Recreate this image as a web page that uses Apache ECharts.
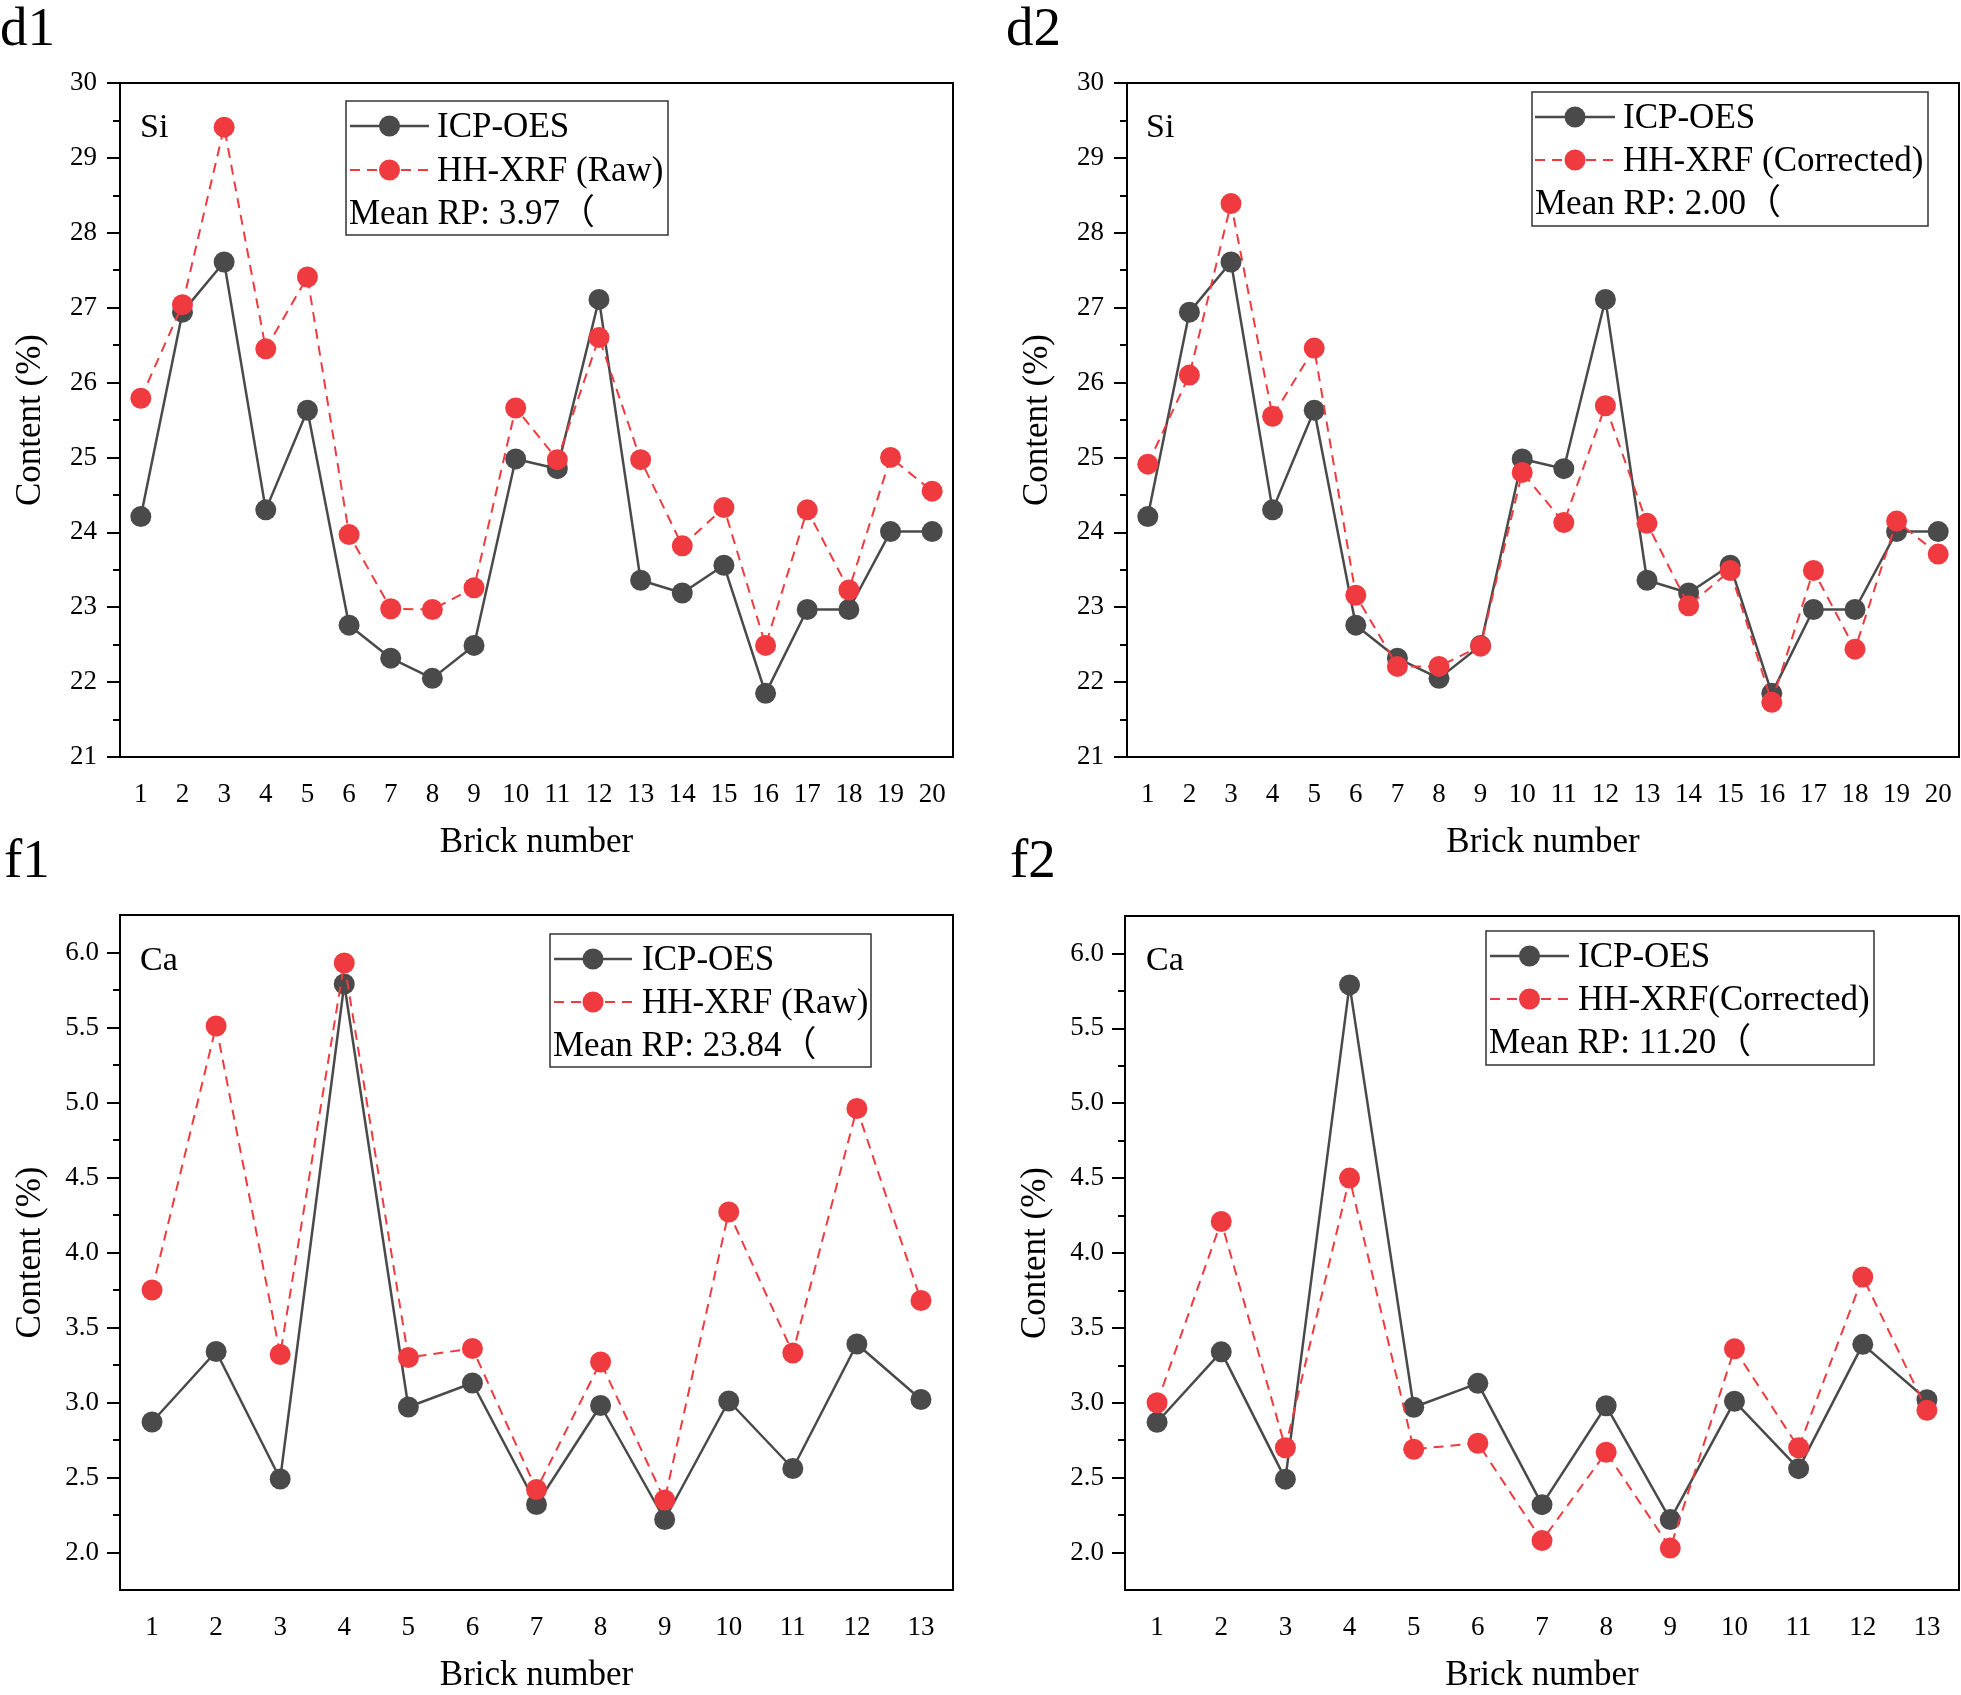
<!DOCTYPE html>
<html>
<head>
<meta charset="utf-8">
<script src="https://cdn.jsdelivr.net/npm/echarts@6/dist/echarts.min.js"></script>
<style>
html,body{margin:0;padding:0;background:#fff;}
#chart{width:1961px;height:1695px;}
</style>
</head>
<body>
<div id="chart"></div>
<script>
// ---------- data ----------
const bricks20 = ['1','2','3','4','5','6','7','8','9','10','11','12','13','14','15','16','17','18','19','20'];
const bricks13 = ['1','2','3','4','5','6','7','8','9','10','11','12','13'];

const siICP  = [24.21,26.94,27.61,24.30,25.63,22.76,22.32,22.05,22.49,24.98,24.85,27.11,23.36,23.19,23.56,21.85,22.97,22.97,24.01,24.01];
const siRaw  = [25.79,27.04,29.41,26.45,27.41,23.97,22.98,22.97,23.26,25.66,24.97,26.60,24.97,23.82,24.33,22.49,24.30,23.23,25.00,24.55];
const siCorr = [24.91,26.10,28.39,25.55,26.46,23.16,22.21,22.21,22.48,24.80,24.13,25.69,24.12,23.02,23.49,21.73,23.49,22.44,24.15,23.71];

const caICP  = [2.87,3.34,2.49,5.79,2.97,3.13,2.32,2.98,2.22,3.01,2.56,3.39,3.02];
const caRaw  = [3.75,5.51,3.32,5.93,3.30,3.36,2.42,3.27,2.35,4.27,3.33,4.96,3.68];
const caCorr = [3.00,4.21,2.70,4.50,2.69,2.73,2.08,2.67,2.03,3.36,2.70,3.84,2.95];

const caMajorTicks = [2.0,2.5,3.0,3.5,4.0,4.5,5.0,5.5,6.0];
const caMinorTicks = [2.25,2.75,3.25,3.75,4.25,4.75,5.25,5.75];

const panelLabels = ['d1','d2','f1','f2'];
const elementLabels = ['Si','Si','Ca','Ca'];
const legendNames = [
  ['ICP-OES','HH-XRF (Raw)','Mean RP: 3.97（'],
  ['ICP-OES','HH-XRF (Corrected)','Mean RP: 2.00（'],
  ['ICP-OES','HH-XRF (Raw)','Mean RP: 23.84（'],
  ['ICP-OES','HH-XRF(Corrected)','Mean RP: 11.20（']
];

// ---------- styles ----------
const FONT = "'Liberation Serif', 'Noto Sans CJK SC', serif";
const GRAY = '#4a4a4a';
const RED = '#ef3b3f';

const grids = [
  {left:120, top:83, width:833, height:674},
  {left:1127, top:83, width:832, height:674},
  {left:120, top:915, width:833, height:675},
  {left:1125, top:916, width:834, height:674}
];

function xAx(gi, cats){
  return {
    type:'category', gridIndex:gi, data:cats, boundaryGap:true,
    name:'Brick number', nameLocation:'middle', nameGap:68,
    nameTextStyle:{fontFamily:FONT, fontSize:35, color:'#000'},
    axisLine:{lineStyle:{color:'#000', width:2}},
    axisTick:{alignWithLabel:true, length:13, lineStyle:{color:'#000', width:2}},
    axisLabel:{interval:0, margin:24, fontFamily:FONT, fontSize:27, color:'#000'},
    splitLine:{show:false}
  };
}
function ySi(gi){
  return {
    type:'value', gridIndex:gi, min:21, max:30, interval:1,
    name:'Content (%)', nameLocation:'middle', nameGap:72,
    nameTextStyle:{fontFamily:FONT, fontSize:35, color:'#000'},
    axisLine:{show:true, lineStyle:{color:'#000', width:2}},
    axisTick:{show:true, length:13, lineStyle:{color:'#000', width:2}},
    minorTick:{show:true, splitNumber:2, length:7, lineStyle:{color:'#000', width:2}},
    axisLabel:{margin:23, fontFamily:FONT, fontSize:27, color:'#000'},
    splitLine:{show:false}
  };
}
function yCa(gi){
  return [{
    type:'value', gridIndex:gi, min:1.75, max:6.25,
    name:'Content (%)', nameLocation:'middle', nameGap:72,
    nameTextStyle:{fontFamily:FONT, fontSize:35, color:'#000'},
    axisLine:{show:true, lineStyle:{color:'#000', width:2}},
    axisTick:{show:true, length:13, customValues:caMajorTicks, lineStyle:{color:'#000', width:2}},
    axisLabel:{margin:21, customValues:caMajorTicks, fontFamily:FONT, fontSize:27, color:'#000',
      formatter:v=>Number(v).toFixed(1)},
    splitLine:{show:false}
  },{
    type:'value', gridIndex:gi, min:1.75, max:6.25, position:'left',
    axisLine:{show:false},
    axisTick:{show:true, length:7, customValues:caMinorTicks, lineStyle:{color:'#000', width:2}},
    axisLabel:{show:false},
    splitLine:{show:false}
  }];
}

function lineSeries(name, data, xi, yi, dashed){
  return {
    type:'line', name:name, xAxisIndex:xi, yAxisIndex:yi, data:data,
    symbol:'circle', symbolSize:21, animation:false,
    itemStyle:{color: dashed ? RED : GRAY},
    lineStyle:{color: dashed ? RED : GRAY, width: dashed ? 2 : 2.5, type: dashed ? [10,7] : 'solid'},
    z: dashed ? 3 : 2
  };
}

// legend boxes (pixel positions of the drawn legend frames)
const legendBoxes = [
  {x0:346, x1:668, y0:101, y1:235, l0:350, l1:429, tx:437, rows:[126,170,213]},
  {x0:1532, x1:1928, y0:92, y1:226, l0:1535, l1:1615, tx:1623, rows:[117,160,203]},
  {x0:550, x1:871, y0:934, y1:1067, l0:554, l1:632, tx:642, rows:[959,1002,1045]},
  {x0:1486, x1:1874, y0:931, y1:1065, l0:1490, l1:1569, tx:1578, rows:[956,999,1042]}
];
const panelLabelPos = [[0,31],[1006,31],[4,863],[1010,863]];
const elemPos = [[140,128],[1146,128],[140,961],[1146,961]];

const graphic = [];
legendBoxes.forEach((b,i)=>{
  graphic.push({type:'rect', shape:{x:b.x0, y:b.y0, width:b.x1-b.x0, height:b.y1-b.y0},
    style:{fill:'#fff', stroke:'#333', lineWidth:1.5}, z:10});
  const mid = (b.l0+b.l1)/2;
  graphic.push({type:'line', shape:{x1:b.l0, y1:b.rows[0], x2:b.l1, y2:b.rows[0]},
    style:{stroke:GRAY, lineWidth:2.5}, z:11});
  graphic.push({type:'circle', shape:{cx:mid, cy:b.rows[0], r:10.5}, style:{fill:GRAY}, z:12});
  graphic.push({type:'line', shape:{x1:b.l0, y1:b.rows[1], x2:b.l1, y2:b.rows[1]},
    style:{stroke:RED, lineWidth:2, lineDash:[10,7]}, z:11});
  graphic.push({type:'circle', shape:{cx:mid, cy:b.rows[1], r:10.5}, style:{fill:RED}, z:12});
  legendNames[i].forEach((t,k)=>{
    const x = k<2 ? b.tx : b.x0+3;
    graphic.push({type:'text', x:x, y:b.rows[k]+2, z:12,
      style:{text:t, font:'35px ' + FONT, fill:'#000', textAlign:'left', textVerticalAlign:'middle'}});
  });
  graphic.push({type:'text', x:panelLabelPos[i][0], y:panelLabelPos[i][1], z:12,
    style:{text:panelLabels[i], font:'55px ' + FONT, fill:'#000', textAlign:'left', textVerticalAlign:'middle'}});
  graphic.push({type:'text', x:elemPos[i][0], y:elemPos[i][1], z:12,
    style:{text:elementLabels[i], font:'34px ' + FONT, fill:'#000', textAlign:'left', textVerticalAlign:'middle'}});
});

const option = {
  backgroundColor:'#fff',
  animation:false,
  grid: grids.map(g=>Object.assign({show:true, borderColor:'#000', borderWidth:2, backgroundColor:'transparent'}, g)),
  xAxis:[xAx(0,bricks20), xAx(1,bricks20), xAx(2,bricks13), xAx(3,bricks13)],
  yAxis:[ySi(0), ySi(1)].concat(yCa(2), yCa(3)),
  series:[
    lineSeries('ICP-OES', siICP, 0, 0, false),
    lineSeries('HH-XRF (Raw)', siRaw, 0, 0, true),
    lineSeries('ICP-OES', siICP, 1, 1, false),
    lineSeries('HH-XRF (Corrected)', siCorr, 1, 1, true),
    lineSeries('ICP-OES', caICP, 2, 2, false),
    lineSeries('HH-XRF (Raw)', caRaw, 2, 2, true),
    lineSeries('ICP-OES', caICP, 3, 4, false),
    lineSeries('HH-XRF(Corrected)', caCorr, 3, 4, true)
  ],
  graphic: graphic
};

const chart = echarts.init(document.getElementById('chart'), null, {renderer:'canvas'});
chart.setOption(option);
</script>
</body>
</html>
